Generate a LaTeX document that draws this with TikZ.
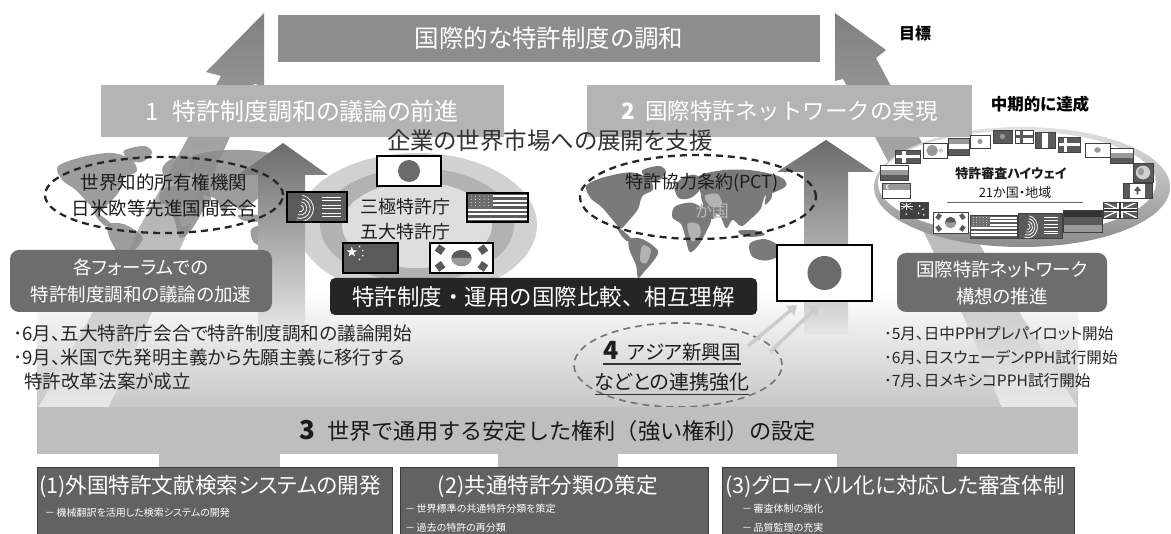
\documentclass[tikz,border=0pt]{standalone}
\usepackage{fontspec}
\setmainfont[RawFeature=+palt]{Noto Sans CJK JP}
\newfontfamily\fullwidthjp{Noto Sans CJK JP}
\usetikzlibrary{calc,arrows.meta,shapes.geometric}

\definecolor{goalfill}{HTML}{8D8D8D}
\definecolor{stepfill}{HTML}{B4B4B4}
\definecolor{bandfill}{HTML}{BEBEBE}
\definecolor{taskfill}{HTML}{626262}
\definecolor{taskline}{HTML}{3A3A3A}
\definecolor{pillfill}{HTML}{6D6D6D}
\definecolor{inkbar}{HTML}{252525}
\definecolor{inktext}{HTML}{1C1C1C}
\definecolor{flagdark}{HTML}{5A5A5A}
\definecolor{flagmid}{HTML}{9A9A9A}
\definecolor{flaglight}{HTML}{D0D0D0}

\newcommand\fsz[2]{\fontsize{#1}{#2}\selectfont}

% a flag drawn in a unit box placed at (x,y), width w, height h
\newcommand\flagat[6][]{\begin{scope}[shift={(#2,#3)},x=#4pt,y=-#5pt]#6\draw[flagedge,#1] (0,0) rectangle (1,1);\end{scope}}
\newcommand\fCrossDark{\fill[flagdark] (0,0) rectangle (1,1); \fill[white] (0.28,0) rectangle (0.42,1); \fill[white] (0,0.4) rectangle (1,0.6);}
\newcommand\fCrossLight{\fill[white] (0,0) rectangle (1,1); \fill[flagdark] (0.28,0) rectangle (0.42,1); \fill[flagdark] (0,0.4) rectangle (1,0.6);}
\newcommand\fTriH[3]{\fill[#1] (0,0) rectangle (1,0.34); \fill[#2] (0,0.33) rectangle (1,0.67); \fill[#3] (0,0.66) rectangle (1,1);}
\newcommand\fTriV[3]{\fill[#1] (0,0) rectangle (0.34,1); \fill[#2] (0.33,0) rectangle (0.67,1); \fill[#3] (0.66,0) rectangle (1,1);}
\newcommand\fDot[2]{\fill[#1] (0,0) rectangle (1,1); \fill[#2] (0.5,0.5) ellipse [x radius=0.13, y radius=0.2];}
\newcommand\fLogo{\fill[white] (0,0) rectangle (1,1); \fill[flagmid] (0.38,0.5) ellipse [x radius=0.24, y radius=0.36]; \fill[flaglight] (0.75,0.5) ellipse [x radius=0.1, y radius=0.15];}
\newcommand\fGlobe{\fill[flagdark] (0,0) rectangle (1,1); \fill[flaglight] (0.5,0.5) ellipse [x radius=0.36, y radius=0.36]; \fill[flagmid] (0.4,0.45) ellipse [x radius=0.15, y radius=0.2];}
\newcommand\fUS{\fill[white] (0,0) rectangle (1,1);
  \foreach \k in {0,...,6} {\fill[flagdark] (0,{\k*2/13}) rectangle (1,{(\k*2+1)/13});}
  \fill[flagmid!70!black] (0,0) rectangle (0.42,{7/13});
  \foreach \i in {1,...,5} {\foreach \j in {1,...,4} {\fill[white] ({\i*0.07},{\j*0.11}) circle [radius=0.45pt];}}}
\newcommand\fKR{\fill[white] (0,0) rectangle (1,1);
  \fill[flagdark] (0.5,0.5) ellipse [x radius=0.16, y radius=0.27];
  \fill[flagmid] (0.66,0.5) arc [start angle=0, end angle=180, x radius=0.16, y radius=0.27] -- cycle;
  \foreach \cx/\cy/\a in {0.16/0.22/-35, 0.84/0.22/35, 0.16/0.78/35, 0.84/0.78/-35}
    {\fill[flagdark, rotate around={\a:(\cx,\cy)}] (\cx-0.06,\cy-0.13) rectangle (\cx+0.06,\cy+0.13);}}
\newcommand\fCN{\fill[flagdark] (0,0) rectangle (1,1);
  \fill[white] (0.16,0.12) -- (0.1365,0.2418) -- (0.0649,0.2444) -- (0.122,0.3222) -- (0.1012,0.4456) -- (0.16,0.372) -- (0.2188,0.4456) -- (0.198,0.3222) -- (0.2551,0.2444) -- (0.1835,0.2418) -- cycle;
  \foreach \px/\py in {0.3/0.12, 0.36/0.25, 0.36/0.42, 0.3/0.55} {\fill[white] (\px,\py) circle [radius=0.9pt];}}
\newcommand\fEPO{\fill[flagdark] (0,0) rectangle (1,1);
  \foreach \r in {1,...,4} {\draw[white, line width=0.8pt] (0.22,0.55) ++(-80:{0.055*\r} and {0.11*\r}) arc [start angle=-80, end angle=110, x radius={0.055*\r}, y radius={0.11*\r}];}
  \foreach \yy in {0.18,0.28,0.45,0.55,0.72,0.82} {\draw[white, line width=0.4pt] (0.58,\yy) -- (0.9,\yy);}}
\newcommand\fUK{\fill[flagdark] (0,0) rectangle (1,1);
  \draw[white, line width=1.3pt] (0,0) -- (1,1) (0,1) -- (1,0);
  \fill[white] (0.42,0) rectangle (0.58,1); \fill[white] (0,0.36) rectangle (1,0.64);
  \fill[black!80] (0.46,0) rectangle (0.54,1); \fill[black!80] (0,0.43) rectangle (1,0.57);}
\newcommand\fCA{\fill[white] (0,0) rectangle (1,1); \fill[flagdark] (0,0) rectangle (0.25,1); \fill[flagdark] (0.75,0) rectangle (1,1);
  \fill[flagdark] (0.5,0.22) -- (0.62,0.5) -- (0.53,0.56) -- (0.53,0.78) -- (0.47,0.78) -- (0.47,0.56) -- (0.38,0.5) -- cycle;}
\newcommand\fAU{\fill[black!75] (0,0) rectangle (1,1);
  \draw[white, line width=0.5pt] (0,0) -- (0.45,0.5) (0,0.5) -- (0.45,0);
  \fill[white] (0.2,0) rectangle (0.26,0.5); \fill[white] (0,0.22) rectangle (0.45,0.28);
  \foreach \px/\py in {0.22/0.75, 0.7/0.25, 0.82/0.45, 0.66/0.7, 0.85/0.8} {\fill[white] (\px,\py) circle [radius=0.9pt];}}
\newcommand\fSG{\fill[flagmid] (0,0) rectangle (1,0.5); \fill[white] (0,0.5) rectangle (1,1); \fill[white] (0.22,0.25) ellipse [x radius=0.08, y radius=0.16]; \fill[flagmid] (0.26,0.25) ellipse [x radius=0.07, y radius=0.14];}

% simplified continents in a 100 x 52 box, y pointing down
\newcommand\worldmap[2]{%
  \fill[#1] plot[smooth cycle, tension=0.55] coordinates {(3,9) (12,5) (24,3) (32,6) (34,11) (29,14) (27,20) (23,25) (19,29) (16,26) (10,19) (5,15)};
  \fill[#1] plot[smooth cycle, tension=0.55] coordinates {(29,2) (37,0) (40,3) (36,7) (31,6)};
  \fill[#1] plot[smooth cycle, tension=0.55] coordinates {(17,28) (21,31) (24,34) (22,35) (19,32)};
  \fill[#1] plot[smooth cycle, tension=0.55] coordinates {(23,34) (29,34) (36,39) (35,43) (30,49) (27,52) (26,46) (23,39)};
  \fill[#1] plot[smooth cycle, tension=0.55] coordinates {(44,10) (47,6) (53,4) (57,7) (55,12) (51,15) (46,15)};
  \fill[#1] plot[smooth cycle, tension=0.55] coordinates {(44,19) (51,17) (56,19) (61,24) (59,30) (55,37) (51,40) (49,33) (47,27) (43,24)};
  \fill[#1] plot[smooth cycle, tension=0.55] coordinates {(55,5) (66,2) (80,2) (93,5) (96,9) (91,12) (86,14) (84,20) (79,25) (75,28) (71,25) (68,29) (65,23) (60,21) (57,17) (56,12)};
  \fill[#1] plot[smooth cycle, tension=0.55] coordinates {(57,18) (62,19) (63,24) (59,24)};
  \fill[#1] plot[smooth cycle, tension=0.55] coordinates {(87,12) (89,11) (89,15) (86,18)};
  \fill[#1] plot[smooth cycle, tension=0.55] coordinates {(74,30) (82,30) (86,32) (80,33) (75,32)};
  \fill[#1] plot[smooth cycle, tension=0.55] coordinates {(79,36) (86,34) (92,37) (92,42) (86,44) (80,42)};
  \fill[#1] plot[smooth cycle, tension=0.55] coordinates {(95,44) (96,46) (94,47)};
  \fill[#2] plot[smooth cycle, tension=0.55] coordinates {(29,37) (33,39) (31,45) (28,44)};
  \fill[#2] plot[smooth cycle, tension=0.55] coordinates {(50,27) (55,27) (56,32) (52,35)};
  \fill[#2] plot[smooth cycle, tension=0.55] coordinates {(58,14) (64,13) (66,18) (61,19)};
}

\begin{document}
\begin{tikzpicture}[x=1pt,y=-1pt,
  flagedge/.style={draw=black!75, line width=0.5pt},
  plain/.style={inner sep=0pt, outer sep=0pt},
  bartext/.style={plain, text=white, font=\fsz{23}{27}},
  pill/.style={plain, fill=pillfill, rounded corners=9pt, text=white, align=center, font=\fsz{18.5}{27}},
  bullet/.style={plain, anchor=west, text=black!85, font=\fsz{18.6}{20}},
  rbullet/.style={bullet, font=\fsz{15.6}{20}},
  dashring/.style={ellipse, draw=black!85, line width=2.3pt, dash pattern=on 7pt off 5pt, inner sep=0pt},
  ringtext/.style={plain, align=center, text=inktext, font=\fsz{18.5}{26}},
  taskbox/.style={plain, fill=taskfill, draw=taskline, line width=1pt},
  tasktitle/.style={plain, text=white, font=\fsz{21.6}{24}},
  tasknote/.style={plain, anchor=west, text=white, font=\fsz{10}{13}},
  linkarrow/.style={draw=black!20, line width=3.5pt, -{Triangle[length=9pt,width=12pt]}},
  bigflag/.style={plain, draw=black, line width=1.3pt, fill=white},
]
\useasboundingbox (0,0) rectangle (1171,534);
\fill[white] (0,0) rectangle (1171,534);

% soft floor behind the lower half
\shade[top color=white, bottom color=black!22] (37,290) rectangle (1078,408);

% the two long swooping arrows rising to the goal
\shade[top color=black!50, middle color=black!24, bottom color=black!9]
  (264,13) -- (206,72) -- (221,76) .. controls (160,190) and (90,320) .. (38,408)
  -- (108,408) .. controls (150,320) and (205,190) .. (254,84) -- (264,86) -- cycle;
\shade[top color=black!50, middle color=black!24, bottom color=black!9]
  (835,13) -- (886,50) -- (876,58) .. controls (930,160) and (1010,300) .. (1078,408)
  -- (1002,408) .. controls (960,300) and (895,170) .. (843,79) -- (835,81) -- cycle;

% world maps
\begin{scope}[shift={(50,146)}, x=2.55pt, y=-2.3pt, opacity=0.85]
  \worldmap{black!45}{black!38}
\end{scope}
\begin{scope}[shift={(580,166)}, x=2.15pt, y=-2.15pt]
  \worldmap{black!52}{black!30}
\end{scope}

% rings of the patent offices
\fill[black!18] (417,225) ellipse [x radius=120pt, y radius=72pt];
\fill[black!30] (417,225) ellipse [x radius=97pt, y radius=57pt];
\fill[black!13] (417,225) ellipse [x radius=75pt, y radius=43pt];

% patent prosecution highway ring
\shade[top color=black!12, bottom color=black!45] (1022,187) ellipse [x radius=148pt, y radius=60pt];
\fill[white] (1017,183) ellipse [x radius=139pt, y radius=52pt];

% goal and mid-term bars
\node[plain, fill=goalfill, minimum width=542pt, minimum height=47pt, text=white, font=\fsz{24.5}{28}] (goal) at (549,38.5) {国際的な特許制度の調和};
\node[plain, fill=stepfill, minimum width=403pt, minimum height=52pt, bartext, font=\fsz{24}{28}] (stepone) at (302,111) {1\hspace{14pt}特許制度調和の議論の前進};
\node[plain, fill=stepfill, minimum width=385pt, minimum height=52pt, bartext, font=\fullwidthjp\fsz{22.5}{27}] (steptwo) at (779.5,111) {\textbf{2}\hspace{10pt}国際特許ネットワークの実現};
\node[plain, font=\bfseries\fsz{16}{18}] (goallabel) at (915,33) {目標};
\node[plain, font=\bfseries\fsz{16.5}{18}] (midlabel) at (1040,104) {中期的に達成};
\node[plain, text=black!80, font=\fsz{23.5}{27}] (support) at (550,141) {企業の世界市場への展開を支援};

% upward arrows under the two bars
\shade[top color=black!58, bottom color=black!10]
  (283,143) -- (328,175) -- (305,175) -- (305,330) -- (258,330) -- (258,175) -- (238,175) -- cycle;
\shade[top color=black!58, bottom color=black!10]
  (826,140) -- (874,172) -- (848,172) -- (848,335) -- (804,335) -- (804,172) -- (777,172) -- cycle;

% flags of the five offices
\node[bigflag, minimum width=64pt, minimum height=30pt] (jpflagc) at (409,171) {};
\fill[black!58] (jpflagc.center) circle [radius=11pt];
\flagat[line width=1.1pt, draw=black]{287}{192}{60}{30}{\fEPO}
\flagat[line width=1.1pt, draw=black]{467}{193}{61}{29}{\fUS}
\flagat[line width=1.1pt, draw=black]{343}{243}{55}{30}{\fCN}
\flagat[line width=1.1pt, draw=black]{430}{243}{63}{30}{\fKR}
\node[ringtext, font=\fsz{18}{25}] (offices) at (405,219) {三極特許庁\\五大特許庁};

% flags around the highway ring
\flagat{895}{150}{25}{13}{\fCrossDark}
\flagat{923}{143}{24}{15}{\fLogo}
\flagat{948}{138}{21}{17}{\fTriH{flagmid}{white}{flagdark}}
\flagat{970}{135}{20}{13}{\fDot{white}{flagmid}}
\flagat{993}{130}{19}{13}{\fDot{flagdark}{flagmid}}
\flagat{1015}{130}{18}{13}{\fCrossLight}
\flagat{1035}{132}{20}{16}{\fTriV{flagdark}{white}{flagdark}}
\flagat{1058}{137}{22}{15}{\fCrossDark}
\flagat{1085}{143}{25}{14}{\fDot{white}{flagmid}}
\flagat{1110}{148}{23}{15}{\fTriH{white}{flagmid}{flagdark}}
\flagat{1133}{163}{20}{19}{\fGlobe}
\flagat{1123}{183}{29}{15}{\fCA}
\flagat{1103}{202}{34}{16}{\fUK}
\flagat{1063}{210}{39}{22}{\fTriH{black!80}{flagdark}{flagmid}}
\flagat{1018}{213}{44}{25}{\fEPO}
\flagat{970}{215}{47}{23}{\fUS}
\flagat{933}{212}{35}{21}{\fKR}
\flagat{900}{202}{28}{16}{\fAU}
\flagat{882}{183}{28}{15}{\fSG}
\flagat{880}{165}{28}{15}{\fTriH{white}{flagmid}{flagdark}}
\node[plain, font=\bfseries\fsz{13}{14}, text=inktext] (pphtitle) at (1011,174) {特許審査ハイウェイ};
\node[plain, font=\fsz{13}{14}, text=inktext] (pphcount) at (1015,193) {21か国・地域};
\draw[black!60, line width=0.6pt] (947,202) -- (1083,202);

% dashed groupings
\node[dashring, minimum width=238pt, minimum height=76pt] (wiporing) at (164,195) {};
\node[ringtext] (wipotext) at (164,195) {世界知的所有権機関\\日米欧等先進国間会合};
\node[dashring, minimum width=236pt, minimum height=84pt] (pctring) at (698,197) {};
\node[plain, text=black!28, font=\fsz{17}{20}] (pctcount) at (712,211) {か国};
\node[plain, text=inktext, font=\fsz{18}{20}] (pcttext) at (702,183) {特許協力条約(PCT)};

% Japan and the emerging Asian economies
\node[bigflag, minimum width=95pt, minimum height=56pt] (jpflag) at (824.5,273) {};
\fill[black!58] (jpflag.center) circle [radius=17pt];
\node[dashring, draw=black!55, line width=1.6pt, minimum width=208pt, minimum height=84pt] (asiaring) at (678,365) {};
\coordinate (linkAfrom) at (748,346);
\coordinate (linkBfrom) at (770,352);
\draw[linkarrow] (linkAfrom) -- ($(jpflag.south west)+(20,4)$);
\draw[linkarrow] (linkBfrom) -- ($(jpflag.south west)+(42,4)$);
\node[plain, text=inktext, font=\fsz{19.5}{22}] (asiaone) at (672,351) {\textbf{\fsz{25}{26}4}\hspace{9pt}アジア新興国};
\draw[black!80, line width=1.4pt] ($(asiaone.south west)+(0,3)$) -- ($(asiaone.south east)+(0,3)$);
\node[plain, text=inktext, font=\fsz{20}{22}] (asiatwo) at (672,382) {などとの連携強化};
\draw[black!80, line width=1.4pt] ($(asiatwo.south west)+(0,3)$) -- ($(asiatwo.south east)+(0,3)$);

% discussion boxes
\node[pill, minimum width=262pt, minimum height=62pt] (forum) at (141,281) {各フォーラムでの\\特許制度調和の議論の加速};
\node[pill, minimum width=210pt, minimum height=59pt] (network) at (1002,282.5) {国際特許ネットワーク\\構想の推進};
\node[plain, fill=inkbar, rounded corners=5pt, minimum width=427pt, minimum height=37pt, text=white, font=\fullwidthjp\fsz{22.5}{26}] (compare) at (543.5,296.5) {特許制度・運用の国際比較、相互理解};

% milestones
\node[bullet] (leftone) at (13,333) {･6月、五大特許庁会合で特許制度調和の議論開始};
\node[bullet] (lefttwo) at (13,357) {･9月、米国で先発明主義から先願主義に移行する};
\node[bullet] (leftthree) at (24,381) {特許改革法案が成立};
\node[rbullet] (rightone) at (884,334) {･5月、日中PPHプレパイロット開始};
\node[rbullet] (righttwo) at (884,358) {･6月、日スウェーデンPPH試行開始};
\node[rbullet] (rightthree) at (884,381) {･7月、日メキシコPPH試行開始};

% foundation band and its three work items
\node[plain, fill=bandfill, minimum width=1041pt, minimum height=47pt, text=black!90, font=\fullwidthjp\fsz{22.2}{26}] (band) at (557.5,431) {\textbf{\fsz{26}{28}3}\hspace{12pt}世界で通用する安定した権利（強い権利）の設定};
\fill[bandfill] (159,454) rectangle (280,469);
\fill[bandfill] (498,454) rectangle (618,469);
\fill[bandfill] (837,454) rectangle (957,469);
\node[taskbox, minimum width=355pt, minimum height=82pt] (taskone) at (214.5,509) {};
\node[taskbox, minimum width=308pt, minimum height=82pt] (tasktwo) at (554,509) {};
\node[taskbox, minimum width=352pt, minimum height=82pt] (taskthree) at (898,509) {};
\node[tasktitle, anchor=west] (taskonetitle) at (39,487) {(1)外国特許文献検索システムの開発};
\node[tasktitle] (tasktwotitle) at (548,487) {(2)共通特許分類の策定};
\node[tasktitle, anchor=west] (taskthreetitle) at (725,487) {(3)グローバル化に対応した審査体制};
\node[tasknote] (taskonenote) at (45,513) {－\,機械翻訳を活用した検索システムの開発};
\node[tasknote] (tasktwonotea) at (405,509) {－\,世界標準の共通特許分類を策定};
\node[tasknote] (tasktwonoteb) at (405,528) {－\,過去の特許の再分類};
\node[tasknote] (taskthreenotea) at (742,509) {－\,審査体制の強化};
\node[tasknote] (taskthreenoteb) at (742,528) {－\,品質監理の充実};
\end{tikzpicture}
\end{document}
